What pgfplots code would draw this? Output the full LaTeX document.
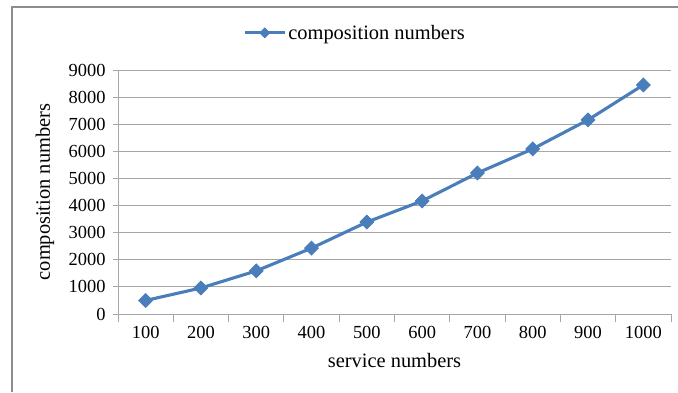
\documentclass[border=0pt]{standalone}
\usepackage{fontspec}
\setmainfont{Liberation Serif}
\usepackage{pgfplots}
\pgfplotsset{compat=1.18}
\definecolor{ln}{HTML}{4A7EBB}
\definecolor{gr}{HTML}{A6A6A6}
\begin{document}
\begin{tikzpicture}[x=1bp,y=1bp]
\path[use as bounding box] (0,0) rectangle (678,392);
\draw[gr!85!black, line width=1.3bp] (12,0) -- (12,385) -- (678,385);
\begin{axis}[
  at={(118bp,78bp)}, anchor=south west,
  scale only axis, width=553bp, height=244bp,
  xmin=-0.5, xmax=9.5, ymin=0, ymax=9000,
  axis x line*=bottom, axis y line*=left,
  axis line style={gr, line width=0.9bp},
  xtick={0,...,9},
  xticklabels={100,200,300,400,500,600,700,800,900,1000},
  minor xtick={-0.5,0.5,...,9.5},
  major x tick style={draw=none},
  minor x tick style={gr, line width=0.9bp},
  ytick={0,1000,...,9000},
  y tick style={gr, line width=0.9bp},
  tick align=outside,
  major tick length=5bp, minor tick length=8bp,
  ymajorgrids, grid style={gr, line width=0.9bp},
  /pgf/number format/assume math mode=true,
  /pgf/number format/1000 sep={},
  tick label style={font=\fontsize{18.5}{20}\selectfont, text=black},
  xticklabel style={yshift=-4bp},
  yticklabel style={xshift=-4bp},
  xlabel={service numbers},
  ylabel={composition numbers},
  label style={font=\fontsize{20.5}{22}\selectfont},
  xlabel style={at={(axis description cs:0.5,-0.19)}, anchor=center},
  ylabel style={at={(axis description cs:-0.132,0.5)}, anchor=center},
  legend style={at={(axis description cs:0.4286,1.152)}, anchor=center, draw=none, fill=none,
    font=\fontsize{20.5}{22}\selectfont, inner sep=0pt},
  legend image code/.code={\draw[mark repeat=2,mark phase=2, mark size=3.4bp] plot coordinates {(0bp,0bp) (20bp,0bp) (40bp,0bp)};},
  clip=false,
]
\addplot[color=ln, line width=3.1bp, mark=square*, mark size=4.8bp, mark options={rotate=45, solid, fill=ln, line width=1bp}]
  coordinates {(0,500) (1,960) (2,1590) (3,2430) (4,3390) (5,4170) (6,5200) (7,6090) (8,7160) (9,8450)};
\addlegendentry{composition numbers}
\end{axis}
\end{tikzpicture}
\end{document}
